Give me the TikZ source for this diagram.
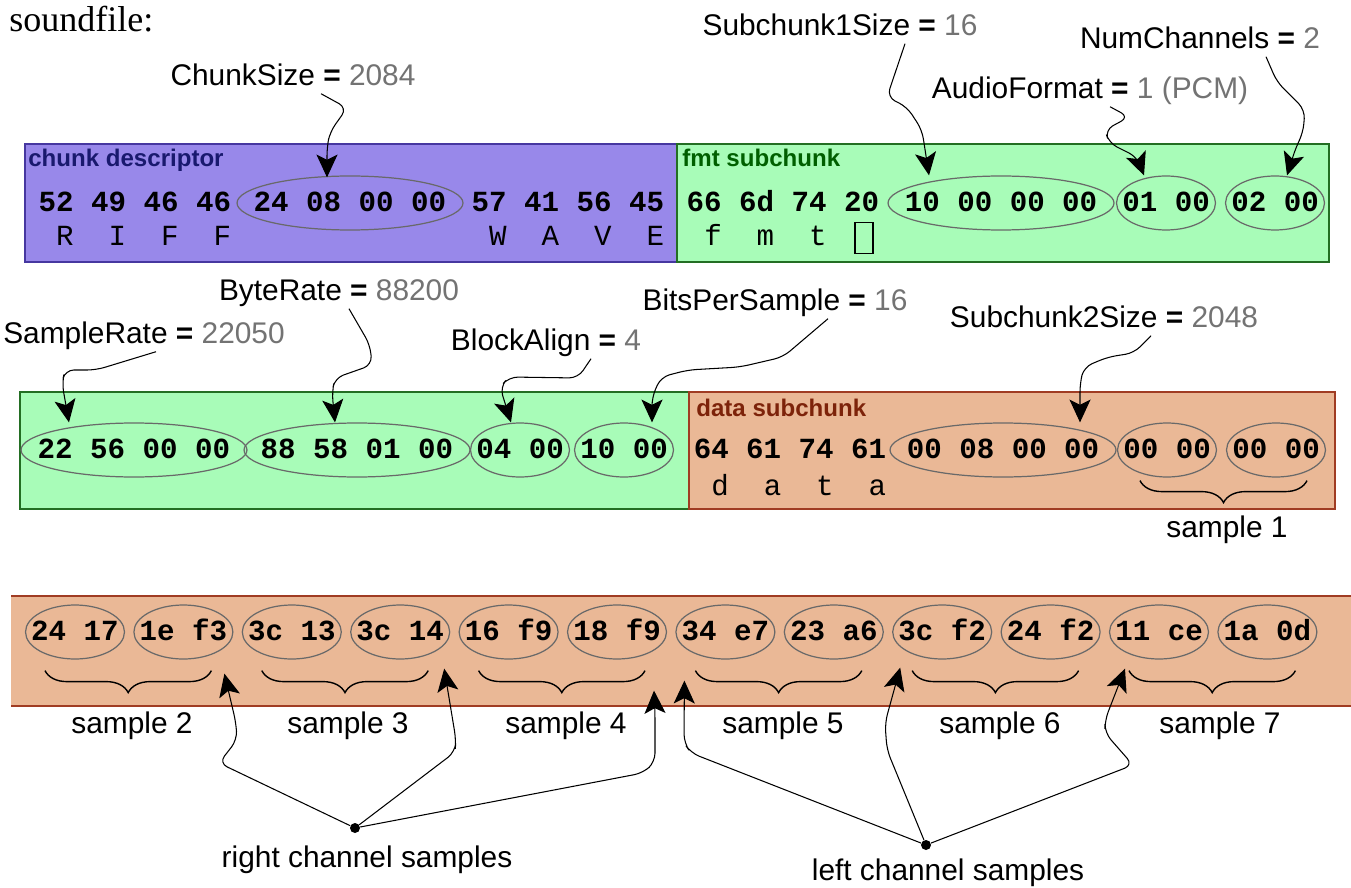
\documentclass[tikz,border=0pt]{standalone}
\usepackage{fontspec}
\setmainfont{Liberation Serif}
\newfontfamily\lblfont{Liberation Sans}
\newfontfamily\hexfont{Liberation Mono}
\usetikzlibrary{shapes.geometric,arrows.meta,calc,decorations.pathreplacing}

\definecolor{descfill}{RGB}{152,136,234}
\definecolor{descline}{RGB}{70,55,160}
\definecolor{desctext}{RGB}{25,25,110}
\definecolor{fmtfill}{RGB}{168,252,184}
\definecolor{fmtline}{RGB}{35,110,35}
\definecolor{fmttext}{RGB}{0,95,0}
\definecolor{datafill}{RGB}{234,184,150}
\definecolor{dataline}{RGB}{160,60,35}
\definecolor{datatext}{RGB}{125,35,10}
\definecolor{ringgray}{RGB}{105,105,105}
\definecolor{numgray}{RGB}{115,115,115}

\newcommand\fld[2]{#1 \textbf{=} \textcolor{numgray}{#2}}
\newcommand\hx[1]{\makebox[0pt]{#1}}

\begin{document}
\begin{tikzpicture}[x=0.02cm, y=-0.02cm,
  hex/.style={font=\hexfont\bfseries\fontsize{16.6}{20}\selectfont, inner sep=0pt, text height=10pt, text depth=0pt},
  asc/.style={font=\hexfont\fontsize{16.6}{20}\selectfont, inner sep=0pt, text height=10pt, text depth=0pt},
  grp/.style={hex, ellipse, draw=ringgray, line width=0.7pt, minimum height=1.08cm},
  grp4/.style={grp, minimum width=4.52cm},
  grp2/.style={grp, minimum width=1.98cm},
  fldlbl/.style={font=\lblfont\fontsize{17}{20}\selectfont, inner sep=1pt, text height=12pt, text depth=3.5pt},
  head/.style={font=\lblfont\bfseries\fontsize{13.7}{16}\selectfont, anchor=base west, inner sep=0pt},
  ptr/.style={-{Stealth[length=13pt,width=12pt,inset=3pt]}, line width=0.6pt, rounded corners=5pt},
  brc/.style={decorate, decoration={brace, mirror, amplitude=0.44cm}, line width=0.8pt},
  dotnode/.style={circle, fill=black, inner sep=0pt, minimum size=0.2cm}]
  \useasboundingbox (0,0) rectangle (1351,888);
  \node[anchor=base west, inner sep=0pt, font=\fontsize{20.5}{24}\selectfont] (title) at (9,32) {soundfile:};

  \draw[descline, fill=descfill, line width=0.8pt] (25,144) rectangle (677,262);
  \draw[fmtline, fill=fmtfill, line width=0.8pt] (677,144) rectangle (1329,262);
  \node[head, desctext] (hdesc) at (28,167) {chunk descriptor};
  \node[head, fmttext] (hfmt) at (682,167) {fmt subchunk};
  \node[hex] (riff) at (135,203) {52 49 46 46};
  \node[grp4] (csize) at (350,203) {\hx{24 08 00 00}};
  \node[hex] (wave) at (568,203) {57 41 56 45};
  \node[hex] (fmtid) at (783,203) {66 6d 74 20};
  \node[grp4] (sub1) at (1001,203) {\hx{10 00 00 00}};
  \node[grp2] (afmt) at (1166,203) {\hx{01 00}};
  \node[grp2] (nch) at (1275,203) {\hx{02 00}};
  \node[asc] (riffc) at (135,237) {\ R\ \ I\ \ F\ \ F};
  \node[asc] (wavec) at (568,237) {\ W\ \ A\ \ V\ \ E};
  \node[asc] (fmtc) at (783,237) {\ f\ \ m\ \ t\ \ \hphantom{x}};
  \node[draw, line width=1pt, minimum width=0.36cm, minimum height=0.62cm, inner sep=0pt] (spc) at (864,238) {};

  \draw[fmtline, fill=fmtfill, line width=0.8pt] (20,392) rectangle (689,509);
  \draw[dataline, fill=datafill, line width=0.8pt] (689,392) rectangle (1335,509);
  \node[head, datatext] (hdata) at (696,416) {data subchunk};
  \node[grp4] (srate) at (134,450) {\hx{22 56 00 00}};
  \node[grp4] (brate) at (357,450) {\hx{88 58 01 00}};
  \node[grp2] (balign) at (520,450) {\hx{04 00}};
  \node[grp2] (bits) at (624,450) {\hx{10 00}};
  \node[hex] (dataid) at (790,450) {64 61 74 61};
  \node[grp4] (sub2) at (1003,450) {\hx{00 08 00 00}};
  \node[grp2] (l1) at (1167,450) {\hx{00 00}};
  \node[grp2] (r1) at (1276,450) {\hx{00 00}};
  \node[asc] (datac) at (790,487) {\ d\ \ a\ \ t\ \ a};
  \draw[brc] ($(l1.south)+(-27,3)$) -- ($(r1.south)+(31,3)$);
  \node[fldlbl] (smp1) at (1227,530) {sample 1};

  \fill[datafill] (11,596) rectangle (1351,706);
  \draw[dataline, line width=0.8pt] (11,596) -- (1351,596) (11,706) -- (1351,706);
  \node[grp2] (l2) at (75,632) {\hx{24 17}};
  \node[grp2] (r2) at (183.4,632) {\hx{1e f3}};
  \node[grp2] (l3) at (291.8,632) {\hx{3c 13}};
  \node[grp2] (r3) at (400.2,632) {\hx{3c 14}};
  \node[grp2] (l4) at (508.6,632) {\hx{16 f9}};
  \node[grp2] (r4) at (617,632) {\hx{18 f9}};
  \node[grp2] (l5) at (725.4,632) {\hx{34 e7}};
  \node[grp2] (r5) at (833.8,632) {\hx{23 a6}};
  \node[grp2] (l6) at (942.2,632) {\hx{3c f2}};
  \node[grp2] (r6) at (1050.6,632) {\hx{24 f2}};
  \node[grp2] (l7) at (1159,632) {\hx{11 ce}};
  \node[grp2] (r7) at (1267.4,632) {\hx{1a 0d}};
  \draw[brc] ($(l2.south)+(-30,11)$) -- ($(r2.south)+(28,11)$);
  \draw[brc] ($(l3.south)+(-30,11)$) -- ($(r3.south)+(28,11)$);
  \draw[brc] ($(l4.south)+(-30,11)$) -- ($(r4.south)+(28,11)$);
  \draw[brc] ($(l5.south)+(-30,11)$) -- ($(r5.south)+(28,11)$);
  \draw[brc] ($(l6.south)+(-30,11)$) -- ($(r6.south)+(28,11)$);
  \draw[brc] ($(l7.south)+(-30,11)$) -- ($(r7.south)+(28,11)$);
  \node[fldlbl] (smp2) at (132,726) {sample 2};
  \node[fldlbl] (smp3) at (348,726) {sample 3};
  \node[fldlbl] (smp4) at (566,726) {sample 4};
  \node[fldlbl] (smp5) at (783,726) {sample 5};
  \node[fldlbl] (smp6) at (1000,726) {sample 6};
  \node[fldlbl] (smp7) at (1220,726) {sample 7};

  \node[fldlbl] (lchunk) at (293,78) {\fld{ChunkSize}{2084}};
  \node[fldlbl] (lsub1) at (840,28) {\fld{Subchunk1Size}{16}};
  \node[fldlbl] (lnumch) at (1200,41) {\fld{NumChannels}{2}};
  \node[fldlbl] (lafmt) at (1090,91) {\fld{AudioFormat}{1 (PCM)}};
  \node[fldlbl] (lbrate) at (339,293) {\fld{ByteRate}{88200}};
  \node[fldlbl] (lsrate) at (144,336) {\fld{SampleRate}{22050}};
  \node[fldlbl] (lbalign) at (546,343) {\fld{BlockAlign}{4}};
  \node[fldlbl] (lbits) at (775,303) {\fld{BitsPerSample}{16}};
  \node[fldlbl] (lsub2) at (1104,320) {\fld{Subchunk2Size}{2048}};

  \draw[ptr] ($(lchunk.south)+(28,0)$) -- (347,108) -- (330,132) -- (327,147) -- ($(csize.north)+(-23,2)$);
  \draw[ptr] ($(lsub1.south)+(65,0)$) -- (887,97) -- (907,107) -- (922,130) -- ($(sub1.north)+(-72,0)$);
  \draw[ptr] ($(lnumch.south)+(66,0)$) -- (1277,82) -- (1305,110) -- (1303,133) -- (1296,147) -- ($(nch.north)+(12,0)$);
  \draw[ptr] ($(lafmt.south)+(20,0)$) -- (1129,117) -- (1105,130) -- (1109,143) -- (1137,157) -- ($(afmt.north)+(-22,0)$);
  \draw[ptr] ($(lsrate.south)+(12,0)$) -- (96,370) -- (65,370) -- (62,383) -- ($(srate.north)+(-65,0)$);
  \draw[ptr] ($(lbrate.south)+(10,0)$) -- (370,345) -- (372,365) -- (335,378) -- (332,392) -- ($(brate.north)+(-22,0)$);
  \draw[ptr] ($(lbalign.south)+(45,0)$) -- (578,378) -- (509,377) -- (500,387) -- ($(balign.north)+(-9,0)$);
  \draw[ptr] ($(lbits.south)+(53,0)$) -- (783,357) -- (740,367) -- (688,370) -- (661,377) -- (652,397) -- ($(bits.north)+(28,0)$);
  \draw[ptr] ($(lsub2.south)+(47,0)$) -- (1134,353) -- (1108,357) -- (1084,367) -- (1080,383) -- ($(sub2.north)+(77,0)$);

  \node[dotnode] (rdot) at (355,828) {};
  \node[dotnode] (ldot) at (926,845) {};
  \node[fldlbl] (rlbl) at (367,860) {right channel samples};
  \node[fldlbl] (llbl) at (948,873) {left channel samples};
  \draw[ptr] (rdot) -- (219,763) -- (237,740) -- (236,723) -- ($(r2.south)+(41,14)$);
  \draw[ptr] (rdot) -- (455,752) -- (456,740) -- ($(r3.south)+(44,9)$);
  \draw[ptr] (rdot) -- (643,773) -- (655,762) -- (655,713) -- ($(r4.south)+(37,31)$);
  \draw[ptr] (ldot) -- (691,753) -- (684,743) -- ($(l5.south)+(-41,21)$);
  \draw[ptr] (ldot) -- (887,750) -- (885,723) -- ($(l6.south)+(-42,8)$);
  \draw[ptr] (ldot) -- (1133,765) -- (1105,733) -- (1105,720) -- ($(l7.south)+(-34,9)$);
\end{tikzpicture}
\end{document}
